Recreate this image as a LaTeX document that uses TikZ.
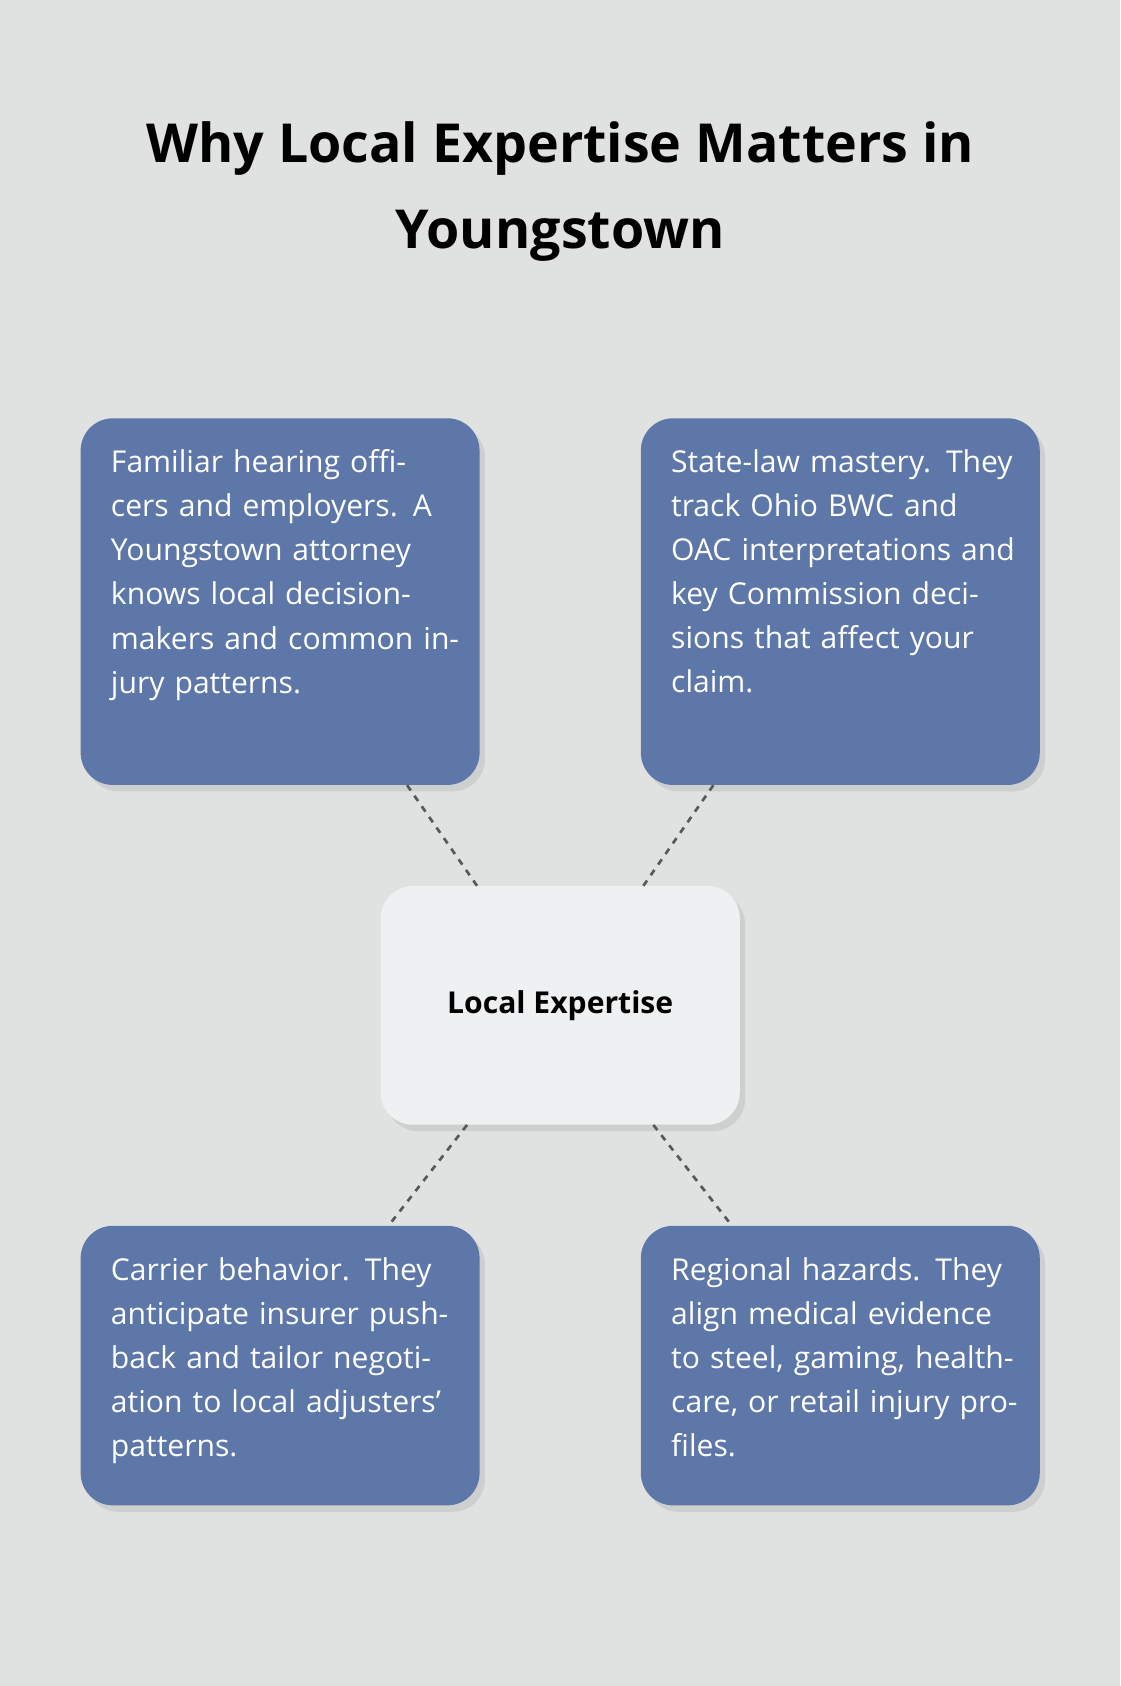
\documentclass[tikz,border=0pt]{standalone}
\usepackage{fontspec}
\setmainfont{Open Sans}
\usetikzlibrary{shadows}
\definecolor{bg}{HTML}{E0E2E1}
\definecolor{bluebox}{HTML}{5D77A8}
\definecolor{cbox}{HTML}{EFF0F2}
\begin{document}
\begin{tikzpicture}[x=1pt,y=-1pt,
  box/.style={draw=none,rounded corners=30pt,inner sep=0pt,
    drop shadow={shadow xshift=5pt,shadow yshift=-6pt,opacity=0.18}},
  blue/.style={box,fill=bluebox},
  txt/.style={anchor=north west,text width=330pt,align=left,inner sep=0pt,text=white,
    font=\fontsize{28}{41}\selectfont},
  conn/.style={draw=black!65,line width=2.5pt,dash pattern=on 6pt off 6pt}]
\fill[bg] (0,0) rectangle (1042,1568);
\useasboundingbox (0,0) rectangle (1042,1568);
\node[align=center,font=\bfseries\fontsize{50}{80}\selectfont] (title) at (521,178)
  {Why Local Expertise Matters in\\Youngstown};
\node[blue,minimum width=371pt,minimum height=341pt] (tl) at (260.5,559.5) {};
\node[blue,minimum width=371pt,minimum height=341pt] (tr) at (781.5,559.5) {};
\node[blue,minimum width=371pt,minimum height=260pt] (bl) at (260.5,1270) {};
\node[blue,minimum width=371pt,minimum height=260pt] (br) at (781.5,1270) {};
\node[box,fill=cbox,minimum width=334pt,minimum height=222pt,font=\bfseries\fontsize{28}{34}\selectfont] (c) at (521,935) {Local Expertise};
\node[txt] (ttl) at (103,418) {Familiar hearing officers and employers. A Youngstown attorney knows local decision-\linebreak makers and common injury patterns.};
\node[txt] (ttr) at (624,418) {State-law mastery. They track Ohio BWC and OAC interpretations and key Commission decisions that affect your claim.};
\node[txt] (tbl) at (103,1169) {Carrier behavior. They anticipate insurer pushback and tailor negotiation to local adjusters’ patterns.};
\node[txt] (tbr) at (624,1169) {Regional hazards. They align medical evidence to steel, gaming, healthcare, or retail injury profiles.};
\draw[conn] (c) -- (tl);
\draw[conn] (c) -- (tr);
\draw[conn] (c) -- (bl);
\draw[conn] (c) -- (br);
\end{tikzpicture}
\end{document}
